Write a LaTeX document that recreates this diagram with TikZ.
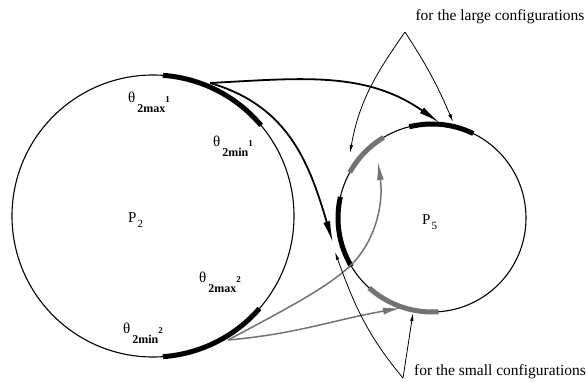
\documentclass[tikz,border=0pt]{standalone}
\usepackage{fontspec}
\setmainfont{Liberation Serif}
\usetikzlibrary{arrows.meta}
\newcommand\thlab[2]{θ\hspace{2pt}\raisebox{-10pt}{\fontsize{12}{12}\selectfont\bfseries #1}{\fontsize{9}{9}\selectfont\bfseries #2}}
\newcommand\plab[2]{P\hspace{1pt}\raisebox{-5pt}{\fontsize{11}{11}\selectfont #2}}
\begin{document}
\begin{tikzpicture}[x=1pt,y=1pt,
  ring/.style={circle,draw,line width=1.1pt,inner sep=0pt},
  thickarc/.style={line width=5pt},
  grayarc/.style={line width=5pt,draw=black!55},
  bigarrow/.style={line width=1.8pt,-{Latex[length=22pt,width=7pt]}},
  grayarrow/.style={line width=1.5pt,draw=black!55,-{Latex[length=18pt,width=7pt]}},
  thinarrow/.style={line width=0.8pt,-{Latex[length=8pt,width=3.5pt]}},
  lbl/.style={inner sep=0pt,anchor=base west,font=\fontsize{15}{15}\selectfont},
  note/.style={inner sep=0pt,font=\fontsize{15.5}{18}\selectfont}]
\useasboundingbox (0,0) rectangle (587,381);
% circles
\node[ring,minimum size=282pt] (P2) at (153,165) {};
\node[ring,minimum size=188pt] (P5) at (432,163) {};
% thick arcs on P2
\draw[thickarc] (P2.center) ++(86:141) arc[start angle=86,end angle=40,radius=141];
\draw[thickarc] (P2.center) ++(-86:141) arc[start angle=-86,end angle=-41,radius=141];
% arcs on P5
\draw[thickarc] (P5.center) ++(104:94) arc[start angle=104,end angle=64,radius=94];
\draw[grayarc] (P5.center) ++(151:94) arc[start angle=151,end angle=121,radius=94];
\draw[thickarc] (P5.center) ++(167:94) arc[start angle=167,end angle=211,radius=94];
\draw[grayarc] (P5.center) ++(228:94) arc[start angle=228,end angle=274,radius=94];
% connector points
\coordinate (s1) at (210,298);
\coordinate (s2) at (228,41);
\coordinate (t1) at (440,258);
\coordinate (t2) at (333,138);
\coordinate (m3) at (352,117);
\coordinate (t3) at (378,219);
\coordinate (t4) at (401,73);
% main arrows
\draw[bigarrow] (s1) to[out=3,in=145] (t1);
\draw[bigarrow] (s1) .. controls (290,275) and (310,215) .. (t2);
\draw[grayarrow] (s2) .. controls (290,74) and (330,95) .. (m3) .. controls (374,139) and (384,175) .. (t3);
\draw[grayarrow] (s2) to[out=5,in=190] (t4);
% labels
\node[lbl] (th1) at (128,278) {\thlab{2max}{1}};
\node[lbl] (th2) at (213,234) {\thlab{2min}{1}};
\node[lbl] (th3) at (199,99) {\thlab{2max}{2}};
\node[lbl] (th4) at (123,48) {\thlab{2min}{2}};
\node[lbl] (p2) at (128,158) {\plab{P}{2}};
\node[lbl] (p5) at (422,157) {\plab{P}{5}};
% notes
\node[note] (large) at (500,364) {for the large configurations};
\node[note] (small) at (500,9) {for the small configurations};
\coordinate (la) at (405,349);
\coordinate (sa) at (403,3);
\coordinate (lt1) at (350,228);
\coordinate (lt2) at (453,259);
\coordinate (st1) at (335,129);
\coordinate (st2) at (413,68);
\draw[thinarrow] (la) to[out=235,in=80] (lt1);
\draw[thinarrow] (la) to[bend left=5] (lt2);
\draw[thinarrow] (sa) to[out=130,in=-70] (st1);
\draw[thinarrow] (sa) -- (st2);
\end{tikzpicture}
\end{document}
